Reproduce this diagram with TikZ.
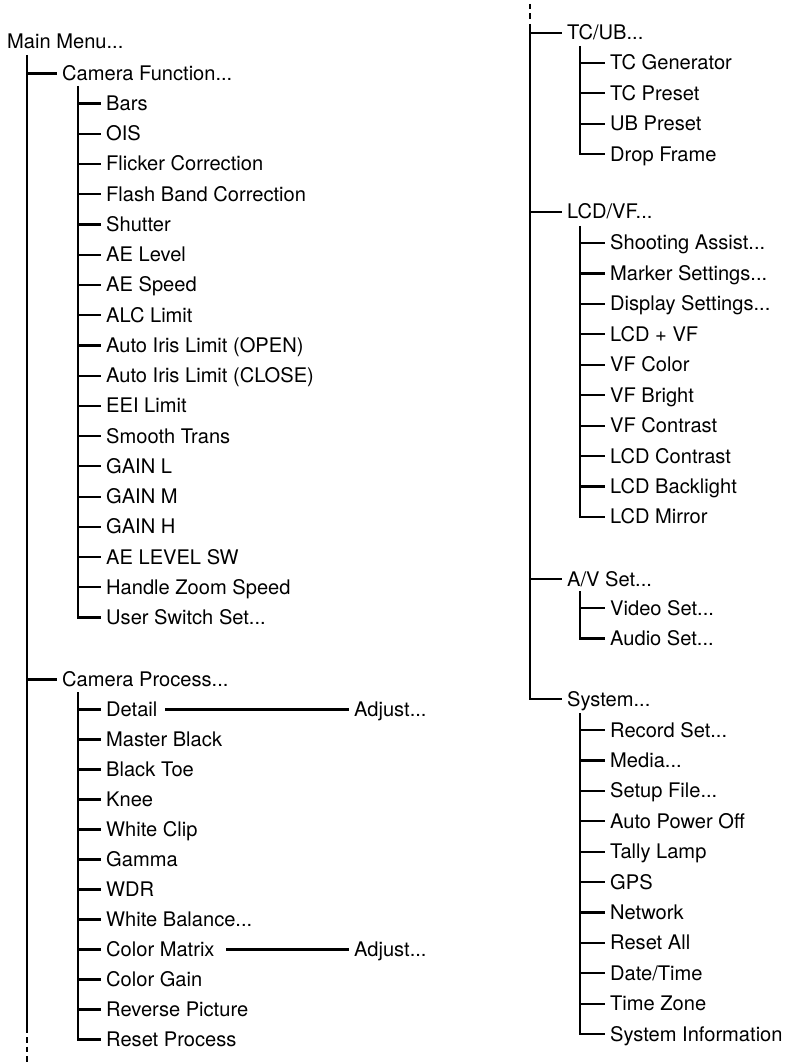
\documentclass[tikz,border=0pt]{standalone}
\usepackage{fontspec}
\setmainfont{TeX Gyre Heros}
\newcommand{\mydots}{...}
\begin{document}
\begin{tikzpicture}[x=1pt,y=-1pt,
  item/.style={anchor=west, inner xsep=5pt, inner ysep=0pt, text height=14pt, text depth=0pt,
     font=\fontsize{20.1}{24}\selectfont},
  ln/.style={line width=2.2pt},
  dln/.style={line width=2.2pt, dash pattern=on 5.5pt off 4pt}]
\useasboundingbox (0,0) rectangle (786,1064);

% ---------- left column ----------
\node[item] (mm) at (2,42) {Main Menu...};
\coordinate (ms) at (27,55);
\coordinate (me) at (27,1032);
\coordinate (md) at (27,1064);
\draw[ln] (ms) -- (me);
\draw[dln] ([yshift=4.5pt]me) -- (md);

\node[item] (cf) at (57,73.5) {Camera Function...};
\draw[ln] (cf.west -| ms) -- (cf.west);
\coordinate (cfs) at (78,86);
\foreach \t [count=\i from 0] in {Bars,OIS,Flicker Correction,Flash Band Correction,Shutter,AE Level,AE Speed,ALC Limit,{Auto Iris Limit (OPEN)},{Auto Iris Limit (CLOSE)},EEI Limit,Smooth Trans,GAIN L,GAIN M,GAIN H,AE LEVEL SW,Handle Zoom Speed}{
  \node[item] (cf\i) at (101,103.5+30.24*\i) {\t};
  \draw[ln] (cf\i.west -| cfs) -- (cf\i.west);
}
\node[item] (cf17) at (101,103.5+30.24*17) {User Switch Set...};
\draw[ln] (cfs) |- (cf17.west);

\node[item] (cp) at (57,679.5) {Camera Process...};
\draw[ln] (cp.west -| ms) -- (cp.west);
\coordinate (cps) at (78,692);
\foreach \t [count=\i from 0] in {Detail,Master Black,Black Toe,Knee,White Clip,Gamma,WDR,White Balance\mydots,Color Matrix,Color Gain,Reverse Picture}{
  \node[item] (cp\i) at (101,709.5+30.0*\i) {\t};
  \draw[ln] (cp\i.west -| cps) -- (cp\i.west);
}
\node[item] (cp11) at (101,709.5+30.0*11) {Reset Process};
\draw[ln] (cps) |- (cp11.west);

\node[item] (adj1) at (349,709.5) {Adjust...};
\coordinate (dl1) at (165,709.5);
\draw[ln] (dl1) -- (adj1.west);
\node[item] (adj2) at (349,949.5) {Adjust...};
\coordinate (dl2) at (226,949.5);
\draw[ln] (dl2) -- (adj2.west);

% ---------- right column ----------
\coordinate (rt) at (530,4);
\coordinate (rs) at (530,24);
\draw[dln] (rt) -- (530,20);

\node[item] (tc) at (562,33) {TC/UB...};
\node[item] (lcd) at (562,212) {LCD/VF...};
\node[item] (av) at (562,579) {A/V Set...};
\node[item] (sys) at (562,699) {System...};
\draw[ln] (rs) |- (sys.west);
\draw[ln] (tc.west -| rs) -- (tc.west);
\draw[ln] (lcd.west -| rs) -- (lcd.west);
\draw[ln] (av.west -| rs) -- (av.west);

% TC/UB
\coordinate (tcs) at (580,46);
\foreach \t [count=\i from 0] in {TC Generator,TC Preset,UB Preset}{
  \node[item] (tc\i) at (605,63+30.4*\i) {\t};
  \draw[ln] (tc\i.west -| tcs) -- (tc\i.west);
}
\node[item] (tc3) at (605,63+30.4*3) {Drop Frame};
\draw[ln] (tcs) |- (tc3.west);

% LCD/VF
\coordinate (lcds) at (580,226);
\foreach \t [count=\i from 0] in {Shooting Assist\mydots,Marker Settings\mydots,Display Settings\mydots,LCD + VF,VF Color,VF Bright,VF Contrast,LCD Contrast,LCD Backlight}{
  \node[item] (lc\i) at (605,243+30.44*\i) {\t};
  \draw[ln] (lc\i.west -| lcds) -- (lc\i.west);
}
\node[item] (lc9) at (605,243+30.44*9) {LCD Mirror};
\draw[ln] (lcds) |- (lc9.west);

% A/V
\coordinate (avs) at (580,591);
\node[item] (av0) at (605,608) {Video Set...};
\node[item] (av1) at (605,638.5) {Audio Set...};
\draw[ln] (av0.west -| avs) -- (av0.west);
\draw[ln] (avs) |- (av1.west);

% System
\coordinate (syss) at (580,713);
\foreach \t [count=\i from 0] in {Record Set\mydots,Media\mydots,Setup File\mydots,Auto Power Off,Tally Lamp,GPS,Network,Reset All,Date/Time,Time Zone}{
  \node[item] (sy\i) at (605,730+30.4*\i) {\t};
  \draw[ln] (sy\i.west -| syss) -- (sy\i.west);
}
\node[item] (sy10) at (605,730+30.4*10) {System Information};
\draw[ln] (syss) |- (sy10.west);
\end{tikzpicture}
\end{document}
